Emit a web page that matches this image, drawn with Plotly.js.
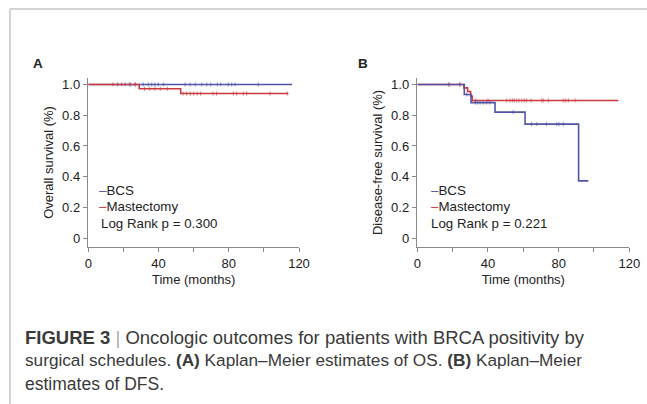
<!DOCTYPE html>
<html>
<head>
<meta charset="utf-8">
<script src="https://cdn.plot.ly/plotly-3.0.1.min.js"></script>
<style>html,body{margin:0;padding:0;background:#fff;}#chart{width:647px;height:404px;}</style>
</head>
<body>
<div id="chart"></div>
<script>
// ---- Panel A: Overall survival ----
const osBcsTime = [0, 116];
const osBcsSurv = [1, 1];
const osMastTime = [0, 29, 52.6, 114];
const osMastSurv = [1, 0.972, 0.941, 0.941];
const osBcsCensorTime = [16.7, 21, 23.4, 26.6, 31.3, 34.2, 36.1, 38, 39.9, 42.7, 55.1, 58, 60.9, 64.6, 67.5, 69.7, 73.5, 75.4, 79.7, 81.7, 83.6, 96.8];
const osBcsCensorSurv = [1, 1, 1, 1, 1, 1, 1, 1, 1, 1, 1, 1, 1, 1, 1, 1, 1, 1, 1, 1, 1, 1];
const osMastCensorTime = [14, 19, 24, 27, 32, 35, 38, 41, 45, 54, 56, 58, 60, 62, 64, 71, 73, 82.6, 84.5, 88.3, 90.2, 103.5, 113.3];
const osMastCensorSurv = [1, 1, 1, 1, 0.972, 0.972, 0.972, 0.972, 0.972, 0.941, 0.941, 0.941, 0.941, 0.941, 0.941, 0.941, 0.941, 0.941, 0.941, 0.941, 0.941, 0.941, 0.941];

// ---- Panel B: Disease-free survival ----
const dfsBcsTime = [0, 26.6, 30.4, 44, 61, 91.3, 96.8];
const dfsBcsSurv = [1, 0.935, 0.882, 0.82, 0.742, 0.373, 0.373];
const dfsMastTime = [0, 26.4, 28.5, 30.2, 31.1, 113.8];
const dfsMastSurv = [1, 0.978, 0.954, 0.924, 0.896, 0.896];
const dfsBcsCensorTime = [17.6, 24, 28, 32.7, 34, 35.5, 37.4, 39.3, 41.1, 54.3, 64.7, 67.6, 73.2, 78.9, 80.2, 82.6];
const dfsBcsCensorSurv = [1, 1, 0.935, 0.882, 0.882, 0.882, 0.882, 0.882, 0.882, 0.82, 0.742, 0.742, 0.742, 0.742, 0.742, 0.742];
const dfsMastCensorTime = [18.3, 24.2, 33, 40, 50.6, 52.5, 53.8, 54.9, 56.3, 57.6, 59.1, 60.6, 61.9, 64.4, 70.4, 71.3, 74.2, 82.6, 84, 85.5, 89.3];
const dfsMastCensorSurv = [1, 1, 0.896, 0.896, 0.896, 0.896, 0.896, 0.896, 0.896, 0.896, 0.896, 0.896, 0.896, 0.896, 0.896, 0.896, 0.896, 0.896, 0.896, 0.896, 0.896];

// ---- Tick labels ----
const xTickVals = [0, 20, 40, 60, 80, 100, 120];
const xTickText = ['0', '', '40', '', '80', '', '120'];
const yTickVals = [0, 0.2, 0.4, 0.6, 0.8, 1.0];
const yTickText = ['0', '0.2', '0.4', '0.6', '0.8', '1.0'];

const BLUE = '#4f55a6';
const RED = '#cc3a3f';
const FONT = 'Liberation Sans, Arial, sans-serif';

function curve(x, y, color, xa, ya) {
  return {x: x, y: y, xaxis: xa, yaxis: ya, type: 'scatter', mode: 'lines',
    line: {shape: 'hv', color: color, width: 1.6}, hoverinfo: 'skip'};
}
function censor(x, y, color, xa, ya) {
  return {x: x, y: y, xaxis: xa, yaxis: ya, type: 'scatter', mode: 'markers',
    marker: {symbol: 'line-ns', size: 3, color: color, opacity: 0.8, line: {color: color, width: 0.8}}, hoverinfo: 'skip'};
}

const data = [
  curve(osBcsTime, osBcsSurv, BLUE, 'x', 'y'),
  curve(osMastTime, osMastSurv, RED, 'x', 'y'),
  censor(osBcsCensorTime, osBcsCensorSurv, BLUE, 'x', 'y'),
  censor(osMastCensorTime, osMastCensorSurv, RED, 'x', 'y'),
  curve(dfsMastTime, dfsMastSurv, RED, 'x2', 'y2'),
  curve(dfsBcsTime, dfsBcsSurv, BLUE, 'x2', 'y2'),
  censor(dfsBcsCensorTime, dfsBcsCensorSurv, BLUE, 'x2', 'y2'),
  censor(dfsMastCensorTime, dfsMastCensorSurv, RED, 'x2', 'y2')
];

const W = 647, H = 404;
const px = v => v / W;
const py = v => (H - v) / H;

function xAxis(d0, d1, anchor) {
  return {domain: [px(d0), px(d1)], range: [0, 120], anchor: anchor,
    tickvals: xTickVals, ticktext: xTickText, ticks: 'outside', ticklen: 4, tickwidth: 1,
    tickcolor: '#8a8a8a', showline: true, linecolor: '#8a8a8a', linewidth: 1.5,
    showgrid: false, zeroline: false, fixedrange: true,
    tickfont: {family: FONT, size: 13, color: '#222'},
    title: {text: 'Time (months)', font: {family: FONT, size: 13, color: '#222'}, standoff: 5}};
}
function yAxis(title, anchor) {
  return {domain: [py(246.7), py(78.3)], range: [-0.055, 1.04], anchor: anchor,
    tickvals: yTickVals, ticktext: yTickText, ticks: 'outside', ticklen: 4, tickwidth: 1,
    tickcolor: '#8a8a8a', showline: true, linecolor: '#8a8a8a', linewidth: 1.5,
    showgrid: false, zeroline: false, fixedrange: true,
    tickfont: {family: FONT, size: 13, color: '#222'},
    title: {text: title, font: {family: FONT, size: 13, color: '#222'}, standoff: 5}};
}

function txt(x, y, text, size, opts) {
  return Object.assign({xref: 'paper', yref: 'paper', x: px(x), y: py(y), text: text,
    showarrow: false, xanchor: 'left', yanchor: 'middle',
    font: {family: FONT, size: size, color: '#222'}}, opts || {});
}
const dashB = "<span style='color:" + BLUE + "'>–</span>";
const dashR = "<span style='color:" + RED + "'>–</span>";
const cap = s => ({family: FONT, size: s, color: '#3a3a3a'});

const annotations = [
  txt(31, 63, '<b>A</b>', 13.5),
  txt(356, 63, '<b>B</b>', 13.5),
  txt(97, 190.7, dashB + 'BCS', 13.3),
  txt(97, 206, dashR + 'Mastectomy', 13.3),
  txt(99, 223.3, 'Log Rank p = 0.300', 13.3),
  txt(429, 190.7, dashB + 'BCS', 13.3),
  txt(429, 206, dashR + 'Mastectomy', 13.3),
  txt(429, 223.3, 'Log Rank p = 0.221', 13.3),
  txt(23, 337, "<b>FIGURE 3</b> <span style='color:#aaa'>|</span> Oncologic outcomes for patients with BRCA positivity by", 18.5, {font: cap(18.5)}),
  txt(23, 360, 'surgical schedules. <b>(A)</b> Kaplan–Meier estimates of OS. <b>(B)</b> Kaplan–Meier', 17.2, {font: cap(17.2)}),
  txt(23, 383.5, 'estimates of DFS.', 17.5, {font: cap(17.5)})
];

const shapes = [
  {type: 'line', xref: 'paper', yref: 'paper', x0: px(10), x1: 1, y0: py(9), y1: py(9), line: {color: '#d3d3d3', width: 2}},
  {type: 'line', xref: 'paper', yref: 'paper', x0: px(10), x1: px(10), y0: py(9), y1: 0, line: {color: '#d3d3d3', width: 2}}
];

const layout = {
  width: W, height: H, margin: {l: 0, r: 0, t: 0, b: 0},
  paper_bgcolor: '#fff', plot_bgcolor: '#fff', showlegend: false,
  font: {family: FONT},
  xaxis: xAxis(88.3, 299, 'y'),
  yaxis: yAxis('Overall survival (%)', 'x'),
  xaxis2: xAxis(417.3, 629.3, 'y2'),
  yaxis2: yAxis('Disease-free survival (%)', 'x2'),
  annotations: annotations,
  shapes: shapes
};

Plotly.newPlot('chart', data, layout, {staticPlot: true, displayModeBar: false});
</script>
</body>
</html>
